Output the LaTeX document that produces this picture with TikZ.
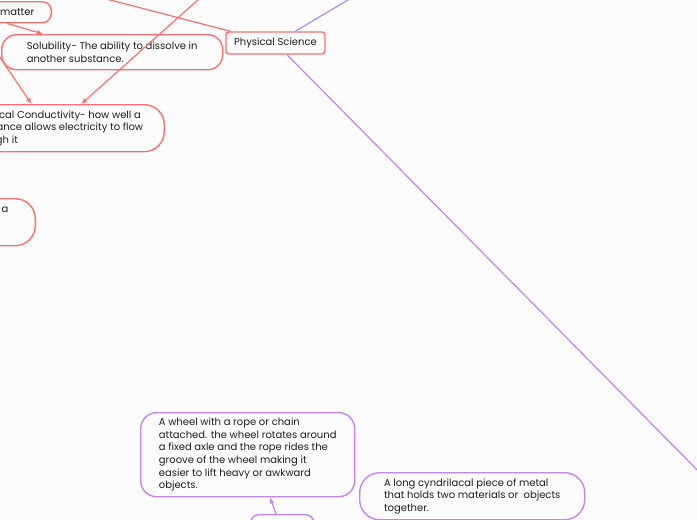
\documentclass[tikz,border=0pt]{standalone}
\usepackage{fontspec}
\setmainfont{Poppins}
\usetikzlibrary{arrows.meta}
\definecolor{mapred}{RGB}{246,112,112}
\definecolor{mappurple}{RGB}{201,130,236}
\definecolor{mapblue}{RGB}{166,142,250}
\definecolor{maptext}{RGB}{30,30,30}
\definecolor{mapbg}{RGB}{252,252,252}

\begin{document}
\begin{tikzpicture}[x=1pt, y=-1pt,
        every node/.style={font=\fontsize{10}{12.6}\selectfont, text=maptext},
        redbox/.style={rectangle, rounded corners=#1, draw=mapred, line width=1.4pt,
                       inner ysep=0pt, align=left},
        redbox/.default=14,
        purplebox/.style={rectangle, rounded corners=#1, draw=mappurple, line width=1.4pt,
                          inner ysep=0pt, align=left},
        purplebox/.default=14,
        redline/.style={draw=mapred, line width=1.2pt},
        redarrow/.style={redline, -{Latex[length=6pt, width=5pt]}},
        purpleline/.style={draw=mappurple, line width=1.2pt},
        purplearrow/.style={purpleline, -{Latex[length=6pt, width=5pt]}},
        blueline/.style={draw=mapblue, line width=1.2pt}
      ]
        \fill[mapbg] (0,0) rectangle (697,520);
        \useasboundingbox (0,0) rectangle (697,520);
        \clip (0,0) rectangle (697,520);

        \node[redbox=3, minimum width=99, minimum height=22, align=center] (phys) at (275.5,43) {Physical Science};
        \node[redbox=9, anchor=north east, minimum height=21, inner xsep=17] (matter) at (52,1) {matter};
        \node[redbox=15, anchor=north west, minimum width=221, minimum height=35] (solub) at (1,34)
          {Solubility- The ability to dissolve in\\another substance.};
        \node[redbox=20, anchor=north east, minimum width=216, minimum height=47] (cond) at (165,104)
          {Electrical Conductivity- how well a\\substance allows electricity to flow\\through it};
        \node[redbox=20, anchor=north east, text width=82, inner xsep=27, minimum height=47, align=right] (leftbox) at (36,198)
          {a\\\mbox{}\\\mbox{}};

        \node[purplebox=16, anchor=north west, minimum width=214, minimum height=84] (pulley) at (140,412)
          {A wheel with a rope or chain\\attached. the wheel rotates around\\a fixed axle and the rope rides the\\groove of the wheel making it\\easier to lift heavy or awkward\\objects.};
        \node[purplebox=20, anchor=north west, minimum width=225, minimum height=47] (axle) at (359,472)
          {A long cyndrilacal piece of metal\\that holds two materials or\ \ objects\\together.};
        \node[purplebox=8, anchor=north west, minimum width=63, minimum height=20] (wheel) at (250,514) {};

        \coordinate (upA) at (91,-5);
        \coordinate (upB) at (209,-10);
        \coordinate (leftA) at (-5,50);
        \coordinate (upC) at (358,-6);
        \coordinate (downC) at (720,493);

        \draw[redline] (phys) -- (upA);
        \draw[redarrow] (upB) -- ([xshift=25pt]cond.north);
        \draw[redarrow] ([xshift=-45pt]matter.south east) -- ([xshift=42pt]solub.north west);
        \draw[redarrow] (leftA) -- ([xshift=84pt]cond.north west);
        \draw[blueline] (phys) -- (upC);
        \draw[purpleline] (phys) -- (downC);
        \draw[purplearrow] ([xshift=26pt]wheel.north west) -- ([xshift=130pt]pulley.south west);
      \end{tikzpicture}
\end{document}
